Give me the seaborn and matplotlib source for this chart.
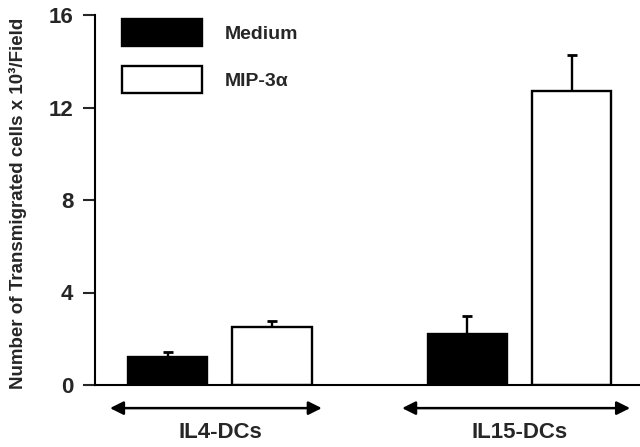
import matplotlib
matplotlib.use("Agg")
import matplotlib.pyplot as plt
import seaborn as sns
import pandas as pd
import numpy as np

# ---- data ----
groups = ["IL4-DCs", "IL15-DCs"]
treatments = ["Medium", "MIP-3α"]
medium_vals = [1.2, 2.2]
medium_err = [0.23, 0.78]
mip_vals = [2.52, 12.7]
mip_err = [0.26, 1.56]
y_ticks = [0, 4, 8, 12, 16]
y_label = "Number of Transmigrated cells x 10³/Field"

df = pd.DataFrame({
    "group": groups * 2,
    "treatment": [treatments[0]] * 2 + [treatments[1]] * 2,
    "value": medium_vals + mip_vals,
})
errs = {treatments[0]: medium_err, treatments[1]: mip_err}

sns.set_style("white")
plt.rcParams["font.family"] = ["Liberation Sans", "DejaVu Sans"]
plt.rcParams["font.weight"] = "bold"

fig = plt.figure(figsize=(6.4, 4.47), dpi=100)
ax = fig.add_axes([95 / 640, 1 - 385 / 447, 545 / 640, 370 / 447])

sns.barplot(data=df, x="group", y="value", hue="treatment", order=groups,
            hue_order=treatments, palette={treatments[0]: "black", treatments[1]: "white"},
            edgecolor="black", linewidth=1.7, width=0.695, gap=0.24,
            errorbar=None, ax=ax, zorder=2)

# upward-only error bars at bar centres
for cont, t in zip(ax.containers, treatments):
    xs = [p.get_x() + p.get_width() / 2 for p in cont.patches]
    hs = [p.get_height() for p in cont.patches]
    e = errs[t]
    ax.errorbar(xs, hs, yerr=[np.zeros(len(e)), e], fmt="none", ecolor="black",
                elinewidth=1.7, capsize=3.5, capthick=2.0, zorder=1)

ax.set_ylim(0, 16)
ax.set_xlim(-0.417, 1.402)
ax.set_yticks(y_ticks)
ax.set_yticklabels([str(t) for t in y_ticks], fontsize=16, fontweight="bold")
ax.tick_params(axis="y", direction="out", length=8.6, width=1.5, pad=7, left=True)
ax.tick_params(axis="x", length=0)
ax.set_xticklabels([])
ax.set_xlabel("")
ax.set_ylabel("")
fig.text(18 / 640, 1 - 203 / 447, y_label, rotation=90, ha="center", va="center",
         fontsize=13.5, fontweight="bold")

for s in ["top", "right"]:
    ax.spines[s].set_visible(False)
for s in ["left", "bottom"]:
    ax.spines[s].set_linewidth(1.5)
    ax.spines[s].set_color("black")

# group arrows and labels below the axis
arrow_span = [(-0.367, 0.34), (-0.392, 0.369)]
for i, (g, (a0, a1)) in enumerate(zip(groups, arrow_span)):
    ax.annotate("", xy=(i + a1, -1.0), xytext=(i + a0, -1.0),
                arrowprops=dict(arrowstyle="<|-|>", lw=1.8, color="black",
                                mutation_scale=20, shrinkA=0, shrinkB=0),
                annotation_clip=False)
    ax.text(i, -2.05, g, ha="center", va="center", fontsize=16,
            fontweight="bold", clip_on=False)

# legend
handles, labels = ax.get_legend_handles_labels()
ax.legend(handles, labels, loc="upper left",
          bbox_to_anchor=(122 / 640, 1 - 19 / 447), bbox_transform=fig.transFigure,
          frameon=False, handlelength=4.1, handleheight=1.75,
          labelspacing=1.05, handletextpad=1.2, borderpad=0, borderaxespad=0,
          prop={"weight": "bold", "size": 14})

fig.savefig("out.png", dpi=100)
